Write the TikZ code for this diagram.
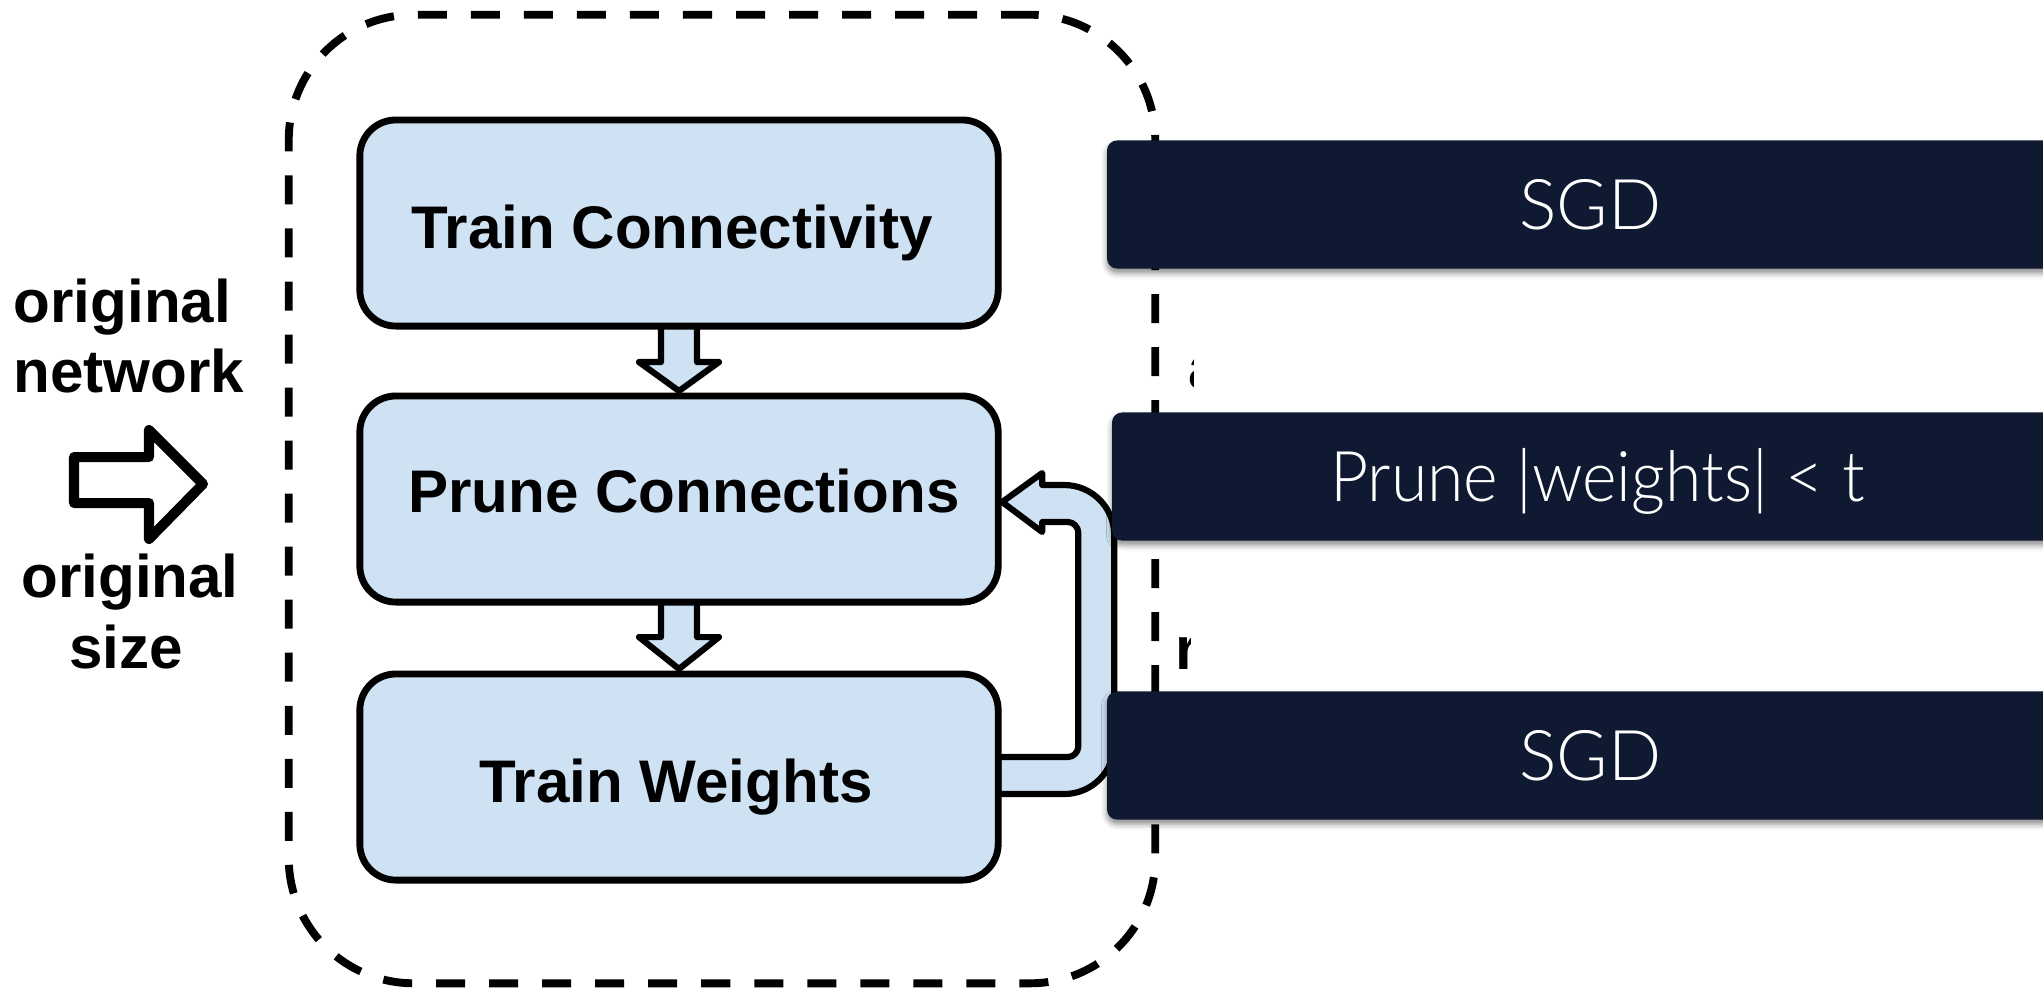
\documentclass[tikz,border=0pt]{standalone}
\usepackage{fontspec}
\setmainfont{Liberation Sans}
\newfontfamily\barfont{Lato Light}
\usetikzlibrary{calc,shadows.blur}
\definecolor{boxblue}{HTML}{CFE2F3}
\definecolor{navy}{RGB}{15,25,49}
\begin{document}
\begin{tikzpicture}[x=0.01cm, y=-0.01cm,
  stage/.style={fill=boxblue, rounded corners=0.36cm,
    minimum width=6.38cm, minimum height=2.06cm, inner sep=0pt, outer sep=0pt},
  stage border/.style={draw=black, line width=1.95pt, rounded corners=0.36cm},
  label text/.style={font=\fontsize{17.1}{20}\selectfont\bfseries, inner sep=0pt},
  flow/.style={draw=black, line width=1.75pt, fill=boxblue, line join=round},
  hollow/.style={draw=black, line width=2.85pt, fill=white, line join=round},
  loopbox/.style={draw=black, line width=2.25pt, rounded corners=1.25cm,
    dash pattern=on 0.29cm off 0.24cm, minimum width=8.66cm, minimum height=9.68cm,
    inner sep=0pt, outer sep=0pt},
  bar/.style={fill=navy, rounded corners=0.1cm, minimum height=1.28cm, inner sep=0pt,
    outer sep=0pt, anchor=west, text=white, font=\barfont\fontsize{19.9}{24}\selectfont,
    text height=14.3pt, text depth=0pt,
    blur shadow={shadow xshift=0pt, shadow yshift=-1.3pt, shadow blur radius=1.6pt,
      shadow opacity=45}},
]
\useasboundingbox (0,0) rectangle (2043,990);
\clip (0,0) rectangle (2043,990);

% dashed loop around the three stages
\node[loopbox] (loop) at (722,499) {};

% the three stages (fill first, outlines after the arrows)
\node[stage] (tc) at (679,223) {};
\node[stage] (pc) at (679,499) {};
\node[stage] (tw) at (679,777) {};

% block arrows between the stages
\draw[flow] ($(tc.south)+(-18,0)$) -- ($(tc.south)+(-18,36)$) -- ($(tc.south)+(-40,36)$)
  -- ($(pc.north)+(0,-5)$) -- ($(tc.south)+(40,36)$) -- ($(tc.south)+(18,36)$)
  -- ($(tc.south)+(18,0)$);
\draw[flow] ($(pc.south)+(-18,0)$) -- ($(pc.south)+(-18,35)$) -- ($(pc.south)+(-40,35)$)
  -- ($(tw.north)+(0,-5)$) -- ($(pc.south)+(40,35)$) -- ($(pc.south)+(18,35)$)
  -- ($(pc.south)+(18,0)$);

% feedback loop from Train Weights back to Prune Connections
\draw[flow] ($(tw.east)+(0,-20)$) -- ($(tw.east)+(70,-20)$)
  .. controls ($(tw.east)+(75.5,-20)$) and ($(tw.east)+(80,-25.5)$) .. ($(tw.east)+(80,-30)$)
  -- ($(pc.east)+(80,33)$)
  .. controls ($(pc.east)+(80,28.5)$) and ($(pc.east)+(75.5,23)$) .. ($(pc.east)+(70,23)$)
  -- ($(pc.east)+(44,23)$) -- ($(pc.east)+(44,33)$) -- ($(pc.east)+(4,3)$)
  -- ($(pc.east)+(44,-26)$) -- ($(pc.east)+(44,-14)$) -- ($(pc.east)+(66,-14)$)
  .. controls ($(pc.east)+(93.6,-14)$) and ($(pc.east)+(116,8.4)$) .. ($(pc.east)+(116,36)$)
  -- ($(tw.east)+(116,-33)$)
  .. controls ($(tw.east)+(116,-5.4)$) and ($(tw.east)+(93.6,17)$) .. ($(tw.east)+(66,17)$)
  -- ($(tw.east)+(0,17)$) -- cycle;

% stage outlines and titles
\foreach \s in {tc,pc,tw}
  \draw[stage border] (\s.south west) rectangle (\s.north east);
\node[label text, anchor=base] (tcT) at (672,248) {Train Connectivity};
\node[label text, anchor=base] (pcT) at (684,512) {Prune Connections};
\node[label text, anchor=base] (twT) at (676,802) {Train Weights};

% input side
\node[label text, anchor=base west] (inA) at (13,322) {original};
\node[label text, anchor=base west] (inB) at (13,392) {network};
\node[label text, anchor=base] (inC) at (130,597) {original};
\node[label text, anchor=base] (inD) at (126,668) {size};
\draw[hollow] (74,457) -- (149,457) -- (149,430) -- (203,484) -- (149,539)
  -- (149,503) -- (74,503) -- cycle;

% partly hidden letters
\begin{scope}
\clip (1170,340) rectangle (1193,400);
\node[label text, anchor=base west] (fragA) at (1188,388) {a};
\end{scope}
\begin{scope}
\clip (1170,620) rectangle (1190,680);
\node[label text, anchor=base west] (fragR) at (1175,669) {r};
\end{scope}

% banners
\node[bar, minimum width=9.66cm] (sgdA) at (1107,204.5) {SGD};
\node[bar, minimum width=9.70cm] (prune) at (1112,476.5) {\scalebox{0.945}[1]{Prune |weights| < t}};
\node[bar, minimum width=9.66cm] (sgdB) at (1107,755.5) {SGD};
\end{tikzpicture}
\end{document}
